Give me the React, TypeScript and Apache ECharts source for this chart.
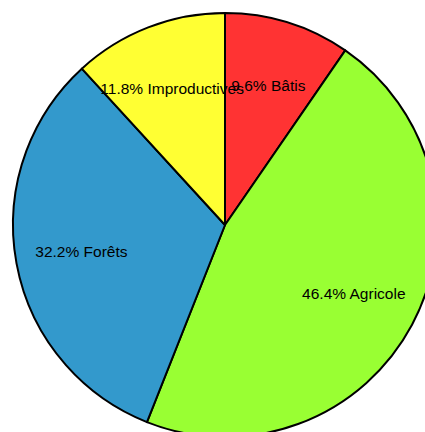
import React, { useEffect, useRef } from "react";
import * as echarts from "echarts";

const categories = ["Bâtis", "Agricole", "Forêts", "Improductives"];
const values = [9.6, 46.4, 32.2, 11.8];
const colors = ["#ff3333", "#99ff33", "#3399cc", "#ffff33"];

export default function App() {
  const ref = useRef<HTMLDivElement>(null);
  useEffect(() => {
    if (!ref.current) return;
    const chart = echarts.init(ref.current, null, { renderer: "svg" });
    const data = categories.map((c, i) => ({
      name: c,
      value: values[i],
      itemStyle: { color: colors[i] },
    }));
    chart.setOption({
      animation: false,
      series: [
        {
          type: "pie",
          center: [225, 225],
          radius: [0, 212],
          startAngle: 90,
          clockwise: true,
          silent: true,
          data,
          label: { show: false },
          labelLine: { show: false },
          itemStyle: { borderColor: "#000", borderWidth: 2 },
        },
        {
          type: "pie",
          center: [225, 225],
          radius: [74, 212],
          startAngle: 90,
          clockwise: true,
          silent: true,
          z: 5,
          data: categories.map((c, i) => ({
            name: c,
            value: values[i],
            itemStyle: { color: "transparent" },
          })),
          itemStyle: { borderWidth: 0 },
          label: {
            show: true,
            position: "inside",
            formatter: (p: any) => `${p.value.toFixed(1)}% ${p.name}`,
            color: "#000",
            fontSize: 15.5,
            fontFamily: "Liberation Sans, Arial, sans-serif",
            textBorderWidth: 0,
          },
          labelLine: { show: false },
          labelLayout: { hideOverlap: false },
        },
      ],
    });
    return () => chart.dispose();
  }, []);
  return (
    <div
      ref={ref}
      style={{ position: "fixed", left: 0, top: 0, width: 425, height: 432, background: "#fff" }}
    />
  );
}
